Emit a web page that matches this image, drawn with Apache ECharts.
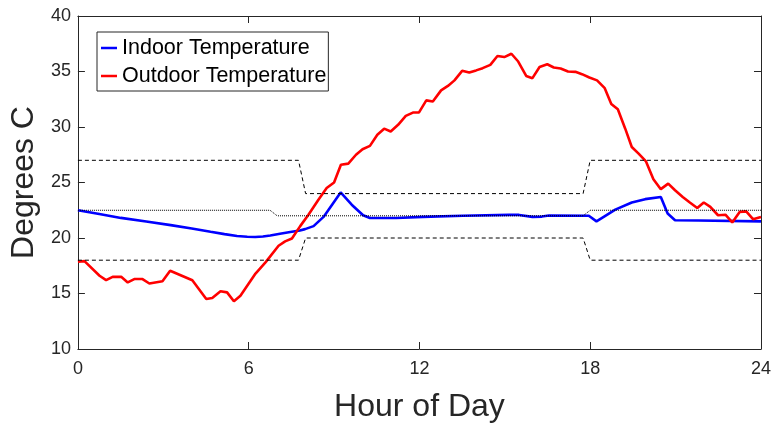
<!DOCTYPE html>
<html>
<head>
<meta charset="utf-8">
<script src="https://cdn.jsdelivr.net/npm/echarts@6/dist/echarts.min.js"></script>
<style>html,body{margin:0;padding:0;background:#fff;}#c{width:774px;height:428px;}</style>
</head>
<body>
<div id="c"></div>
<script>
// Outdoor temperature (hour, degrees C)
var outdoorHours = [0,0.23,0.76,0.99,1.22,1.52,1.75,1.98,2.27,2.51,2.97,3.24,4.02,4.51,4.72,5.01,5.24,5.48,5.71,6.24,6.59,7.05,7.28,7.52,7.81,8.10,8.45,8.74,9.0,9.24,9.5,9.77,10.0,10.26,10.52,10.76,10.99,11.25,11.52,11.77,11.98,12.24,12.47,12.76,13.0,13.23,13.5,13.75,13.99,14.22,14.49,14.74,14.98,15.23,15.47,15.75,15.97,16.22,16.49,16.72,16.96,17.22,17.48,17.71,17.97,18.24,18.51,18.74,18.97,19.23,19.46,19.7,19.96,20.22,20.48,20.74,20.98,21.25,21.5,21.76,21.99,22.22,22.49,22.75,22.99,23.25,23.48,23.72,24.0];
var outdoorTemp  = [17.86,17.92,16.6,16.2,16.5,16.5,16.0,16.3,16.3,15.9,16.1,17.05,16.2,14.5,14.6,15.2,15.1,14.3,14.8,16.8,17.8,19.3,19.7,19.95,21.07,22.1,23.45,24.5,25.0,26.6,26.7,27.5,28.0,28.3,29.3,29.85,29.6,30.2,31.0,31.3,31.3,32.4,32.3,33.3,33.7,34.2,35.06,34.9,35.1,35.3,35.6,36.4,36.3,36.6,35.9,34.6,34.4,35.4,35.65,35.36,35.27,35.0,34.97,34.76,34.46,34.2,33.5,32.08,31.6,29.85,28.2,27.6,26.9,25.3,24.4,24.9,24.3,23.7,23.2,22.7,23.2,22.8,22.05,22.1,21.4,22.35,22.4,21.7,21.9];
// Indoor temperature
var indoorHours = [0,0.75,1.51,2.4,3.26,4.0,4.66,5.15,5.59,5.95,6.23,6.5,6.76,7.1,7.46,7.8,7.98,8.28,8.63,9.23,9.62,10.02,10.26,11.19,12.12,13.52,15.15,15.5,15.97,16.3,16.55,17.95,18.22,18.53,18.88,19.46,19.93,20.48,20.72,20.98,21.79,24];
var indoorTemp  = [22.5,22.16,21.81,21.48,21.16,20.85,20.56,20.35,20.18,20.11,20.09,20.14,20.23,20.38,20.54,20.68,20.8,21.07,21.9,24.1,23.0,22.05,21.8,21.8,21.9,22.0,22.08,22.08,21.9,21.93,22.02,22.0,21.5,22.0,22.56,23.2,23.5,23.7,22.2,21.6,21.58,21.5];
// Comfort band and setpoint
var bandHours  = [0,7.75,8.0,17.75,18.0,24];
var bandUpper  = [27,27,24,24,27,27];
var bandLower  = [18,18,20,20,18,18];
var setHours   = [0,6.75,7.0,17.75,18.0,24];
var setpoint   = [22.5,22.5,22,22,22.5,22.5];
// Axis ticks
var xTicks = [0,6,12,18,24];
var yTicks = [10,15,20,25,30,35,40];

function pairs(h, v){ return h.map(function(x,i){ return [x, v[i]]; }); }

var axisColor = '#262626';
var font = 'Liberation Sans, Arial, Helvetica, sans-serif';
var chart = echarts.init(document.getElementById('c'), null, {renderer:'canvas'});
chart.setOption({
  animation: false,
  backgroundColor: '#fff',
  textStyle: {fontFamily: font},
  grid: {left: 77, right: 11, top: 16, bottom: 76, containLabel: false},
  legend: {
    data: ['Indoor Temperature', 'Outdoor Temperature'],
    orient: 'vertical', left: 97, top: 32,
    icon: 'rect', itemWidth: 16, itemHeight: 2.5, itemGap: 6,
    padding: [5, 2, 4, 4],
    borderColor: '#262626', borderWidth: 1, backgroundColor: '#fff',
    textStyle: {fontSize: 21.5, color: '#000', fontFamily: font}
  },
  xAxis: [{
    type: 'value', min: xTicks[0], max: xTicks[xTicks.length-1], interval: 6,
    name: 'Hour of Day', nameLocation: 'middle', nameGap: 42,
    nameTextStyle: {fontSize: 32, color: axisColor, fontFamily: font},
    axisLine: {show: true, onZero: false, lineStyle: {color: axisColor, width: 1}},
    axisTick: {show: true, inside: true, length: 7, lineStyle: {color: axisColor}},
    axisLabel: {fontSize: 18, color: axisColor, margin: 11, fontFamily: font},
    splitLine: {show: false}
  }, {
    type: 'value', position: 'top', min: 0, max: 24, interval: 6,
    axisLine: {show: true, onZero: false, lineStyle: {color: axisColor, width: 1}},
    axisTick: {show: true, inside: true, length: 7, lineStyle: {color: axisColor}},
    axisLabel: {show: false}, splitLine: {show: false}
  }],
  yAxis: [{
    type: 'value', min: yTicks[0], max: yTicks[yTicks.length-1], interval: 5,
    name: 'Degrees C', nameLocation: 'middle', nameGap: 35, nameRotate: 90,
    nameTextStyle: {fontSize: 32, color: axisColor, fontFamily: font},
    axisLine: {show: true, onZero: false, lineStyle: {color: axisColor, width: 1}},
    axisTick: {show: true, inside: true, length: 7, lineStyle: {color: axisColor}},
    axisLabel: {fontSize: 18, color: axisColor, margin: 7, fontFamily: font},
    splitLine: {show: false}
  }, {
    type: 'value', position: 'right', min: 10, max: 40, interval: 5,
    axisLine: {show: true, onZero: false, lineStyle: {color: axisColor, width: 1}},
    axisTick: {show: true, inside: true, length: 7, lineStyle: {color: axisColor}},
    axisLabel: {show: false}, splitLine: {show: false}
  }],
  series: [
    {name: 'Indoor Temperature', type: 'line', data: pairs(indoorHours, indoorTemp),
     showSymbol: false, symbol: 'none', color: '#0000ff',
     lineStyle: {color: '#0000ff', width: 2.6}, z: 2},
    {name: 'Outdoor Temperature', type: 'line', data: pairs(outdoorHours, outdoorTemp),
     showSymbol: false, symbol: 'none', color: '#ff0000',
     lineStyle: {color: '#ff0000', width: 2.6}, z: 3},
    {name: 'Upper', type: 'line', data: pairs(bandHours, bandUpper), symbol: 'none',
     lineStyle: {color: '#000', width: 1, type: [4, 3]}, z: 4, silent: true},
    {name: 'Lower', type: 'line', data: pairs(bandHours, bandLower), symbol: 'none',
     lineStyle: {color: '#000', width: 1, type: [4, 3]}, z: 4, silent: true},
    {name: 'Setpoint', type: 'line', data: pairs(setHours, setpoint), symbol: 'none',
     lineStyle: {color: '#000', width: 1, type: [1, 1]}, z: 4, silent: true}
  ]
});
</script>
</body>
</html>
